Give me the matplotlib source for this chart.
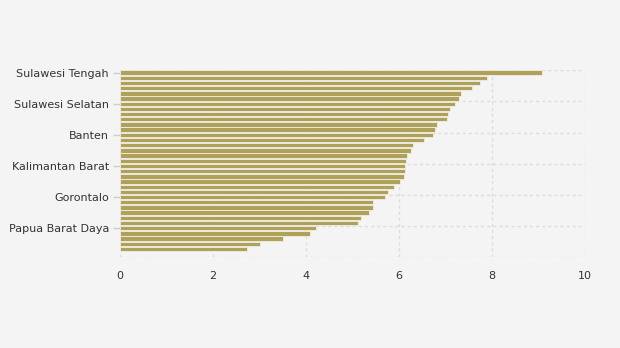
import matplotlib
matplotlib.use("Agg")
import matplotlib.pyplot as plt
import numpy as np

# ---------------------------------------------------------------------------
# Data (top to bottom)
# ---------------------------------------------------------------------------
PROVINCES = [
    "Sulawesi Tengah", "Maluku Utara", "Sulawesi Tenggara", "Sulawesi Barat",
    "Kalimantan Timur", "Kalimantan Utara", "Sulawesi Selatan", "Jawa Barat",
    "Jawa Timur", "Jawa Tengah", "Kepulauan Riau", "Sumatera Selatan",
    "Banten", "Sulawesi Utara", "Kalimantan Tengah", "DI Yogyakarta",
    "Riau", "Bali", "Kalimantan Barat", "Nusa Tenggara Barat", "Jambi",
    "Lampung", "Sumatera Utara", "Bengkulu", "Gorontalo", "Kalimantan Selatan",
    "Sumatera Barat", "DKI Jakarta", "Aceh", "Kepulauan Bangka Belitung",
    "Papua Barat Daya", "Nusa Tenggara Timur", "Maluku", "Papua Barat", "Papua",
]
VALUES = [
    9.08, 7.89, 7.74, 7.57, 7.33, 7.29, 7.20, 7.09, 7.05, 7.03,
    6.82, 6.77, 6.73, 6.54, 6.30, 6.26, 6.17, 6.15, 6.13, 6.13,
    6.11, 6.02, 5.89, 5.76, 5.70, 5.44, 5.44, 5.35, 5.18, 5.12,
    4.21, 4.09, 3.51, 3.01, 2.73,
]
LABEL_EVERY = 6
X_TICKS = [0, 2, 4, 6, 8, 10]

BG = "#f4f4f4"
BAR_COLOR = "#b0a15a"
GRID_COLOR = "#dcdcdc"
TEXT_COLOR = "#333333"
GRID_STYLE = (0, (2.2, 2.2))


def main() -> None:
    fig = plt.figure(figsize=(6.2, 3.48), dpi=100, facecolor=BG)
    ax = fig.add_axes([120 / 620, 1 - 257 / 348, 465 / 620, 187 / 348])
    ax.set_facecolor(BG)

    pos = np.arange(len(VALUES))
    ax.barh(pos, VALUES, height=0.85, color=BAR_COLOR,
            edgecolor="#f0eee4", linewidth=0.6, zorder=3)

    y_bottom = len(VALUES) + 0.55
    ax.set_xlim(0, 10)
    ax.set_ylim(y_bottom, -0.5)

    # labelled categories only every 6th bar
    lab_idx = pos[::LABEL_EVERY]
    ax.set_yticks(lab_idx)
    ax.set_yticklabels([PROVINCES[i] for i in lab_idx], fontsize=8, color=TEXT_COLOR)
    ax.set_yticks(list(lab_idx - 0.45) + [y_bottom], minor=True)
    ax.tick_params(axis="y", which="major", length=5, width=1, color="#cccccc", pad=3)
    ax.tick_params(axis="y", which="minor", length=0)

    ax.set_xticks(X_TICKS)
    ax.set_xticklabels([str(t) for t in X_TICKS], fontsize=8, color=TEXT_COLOR)
    ax.tick_params(axis="x", length=0, pad=10)

    ax.grid(True, axis="x", color=GRID_COLOR, linestyle=GRID_STYLE, linewidth=1.0, zorder=0)
    ax.grid(True, axis="y", which="minor", color=GRID_COLOR, linestyle=GRID_STYLE,
            linewidth=1.0, zorder=0)
    for s in ax.spines.values():
        s.set_visible(False)

    fig.savefig("out.png", dpi=100, facecolor=BG)


if __name__ == "__main__":
    main()
